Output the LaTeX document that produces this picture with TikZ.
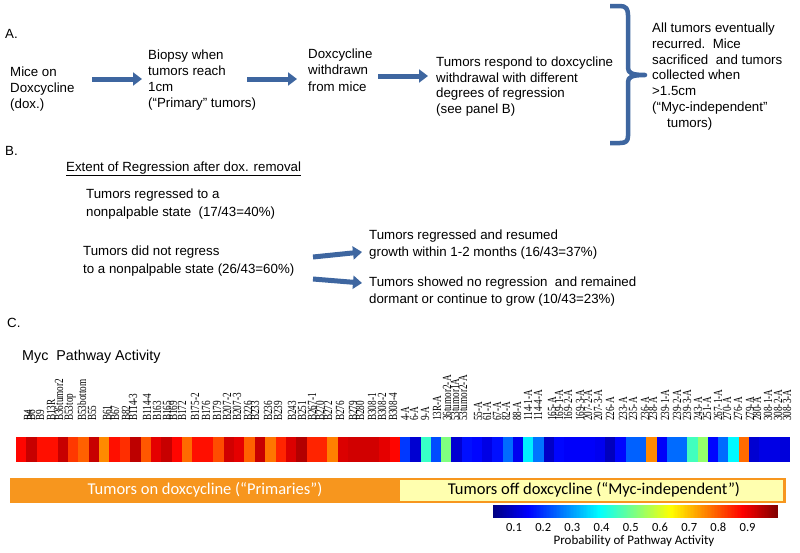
\documentclass[tikz,border=0pt]{standalone}
\usepackage{fontspec}
\setmainfont{Liberation Sans}
\newfontfamily\serifl{Liberation Serif}
\newfontfamily\calib{Carlito}
\usetikzlibrary{arrows.meta}
\definecolor{arrowblue}{RGB}{62,102,160}
\definecolor{barorange}{RGB}{247,150,30}
\definecolor{baryellow}{RGB}{255,255,175}
\newcommand{\txtblock}[2][16]{{\fontsize{13.3}{#1}\selectfont\begin{tabular}[t]{@{}l@{}}#2\end{tabular}}}
\begin{document}
\begin{tikzpicture}[x=1pt,y=-1pt,
  txt/.style={anchor=base west,inner sep=0pt,font=\fontsize{13.3}{16}\selectfont},
  blockarrow/.style={draw=arrowblue,line width=5pt,-{Triangle[length=9pt,width=13pt]}},
  collabel/.style={rotate=90,anchor=west,inner sep=0pt,font=\serifl\fontsize{9.2}{10}\selectfont},
  bartext/.style={inner sep=0pt,font=\calib\fontsize{16.5}{18}\selectfont},
  ticklabel/.style={inner sep=0pt,font=\calib\fontsize{12.5}{14}\selectfont}]
\useasboundingbox (0,0) rectangle (800,552);
\fill[white] (0,0) rectangle (800,552);

% ---------- Panel A ----------
\node[txt] (labA) at (5,38) {A.};
\node[txt] (mice) at (10,76.5) {\txtblock{Mice on\\Doxcycline\\(dox.)}};
\node[txt] (biopsy) at (148,59.5) {\txtblock{Biopsy when\\tumors reach\\1cm\\(“Primary” tumors)}};
\node[txt] (withdrawn) at (308,58) {\txtblock[16.5]{Doxcycline\\withdrawn\\from mice}};
\node[txt] (respond) at (436,66.5) {\txtblock[15.5]{Tumors respond to doxcycline\\withdrawal with different\\degrees of regression\\(see panel B)}};
\node[txt] (recur) at (652,32.5) {\txtblock[15.8]{All tumors eventually\\recurred.\ \ Mice\\sacrificed\ \ and tumors\\collected when\\>1.5cm\\(“Myc-independent”\\\hspace{15pt}tumors)}};

\coordinate (a1s) at (92,79);  \coordinate (a1e) at (142,79);
\coordinate (a2s) at (247,79); \coordinate (a2e) at (297,79);
\coordinate (a3s) at (378,76); \coordinate (a3e) at (428,76);
\draw[blockarrow] (a1s) -- (a1e);
\draw[blockarrow] (a2s) -- (a2e);
\draw[blockarrow] (a3s) -- (a3e);

\draw[arrowblue,line width=4.5pt,line join=round]
  (610,6) -- (620,6) .. controls (626,6) and (628,9) .. (628,15) -- (628,68)
  .. controls (628,73) and (632,75) .. (645,75)
  .. controls (632,75) and (628,77) .. (628,82) -- (628,136)
  .. controls (628,141) and (626,143) .. (620,143) -- (610,143);

% ---------- Panel B ----------
\node[txt] (labB) at (5,155) {B.};
\node[txt] (extent) at (66,171.5) {\underline{Extent of Regression after dox. removal}};
\node[txt] (regressed) at (86,198.5) {\txtblock[17.5]{Tumors regressed to a\\nonpalpable state\ \ (17/43=40\%)}};
\node[txt] (notregress) at (83,255.5) {\txtblock[17.5]{Tumors did not regress\\to a nonpalpable state (26/43=60\%)}};
\node[txt] (resumed) at (369,239.5) {\txtblock[17]{Tumors regressed and resumed\\growth within 1-2 months (16/43=37\%)}};
\node[txt] (dormant) at (369,286.5) {\txtblock[16.5]{Tumors showed no regression\ \ and remained\\dormant or continue to grow (10/43=23\%)}};
\coordinate (b1s) at (313,257); \coordinate (b1e) at (362,252);
\coordinate (b2s) at (313,279); \coordinate (b2e) at (362,283);
\draw[blockarrow] (b1s) -- (b1e);
\draw[blockarrow] (b2s) -- (b2e);

% ---------- Panel C ----------
\node[txt] (labC) at (7,327) {C.};
\node[txt,font=\fontsize{14.3}{16}\selectfont] (myc) at (22,360) {Myc\ \ Pathway Activity};

% heatmap: primaries
\foreach \v [count=\i from 0] in {0.87,0.93,0.86,0.86,0.93,0.82,0.78,0.93,0.74,0.86,0.83,0.94,0.79,0.90,0.93,0.87,0.77,0.86,0.86,0.80,0.92,0.90,0.78,0.93,0.76,0.84,0.91,0.95,0.84,0.84,0.75,0.91,0.92,0.92,0.92,0.90,0.87} {
  \pgfmathsetmacro\jr{max(0,min(1,1.5-abs(4*\v-3)))}
  \pgfmathsetmacro\jg{max(0,min(1,1.5-abs(4*\v-2)))}
  \pgfmathsetmacro\jb{max(0,min(1,1.5-abs(4*\v-1)))}
  \definecolor{jetc}{rgb}{\jr,\jg,\jb}
  \fill[jetc] ({16+\i*10.38},437) rectangle ({16+(\i+1)*10.38+0.4},462);
}
% heatmap: myc-independent
\foreach \v [count=\i from 0] in {0.18,0.08,0.43,0.20,0.50,0.08,0.14,0.13,0.10,0.14,0.23,0.11,0.36,0.24,0.07,0.13,0.12,0.12,0.12,0.11,0.06,0.13,0.22,0.22,0.74,0.12,0.23,0.23,0.44,0.52,0.13,0.23,0.37,0.77,0.08,0.10,0.10,0.09} {
  \pgfmathsetmacro\jr{max(0,min(1,1.5-abs(4*\v-3)))}
  \pgfmathsetmacro\jg{max(0,min(1,1.5-abs(4*\v-2)))}
  \pgfmathsetmacro\jb{max(0,min(1,1.5-abs(4*\v-1)))}
  \definecolor{jetc}{rgb}{\jr,\jg,\jb}
  \fill[jetc] ({400+\i*10.26},437) rectangle ({400+(\i+1)*10.26+0.3},462);
}

% column labels (glyphs stretched across, as in the reference)
\foreach \xx/\lab [count=\i] in {28/B4,31/B6,40/B9,51/B13R,59/B36tumor2,70/B53top,82/B53bottom,92/B55,107/B61,115/B67,126/B82,133/B114-3,147/B114-4,157/B163,167/B165,173/B169,182/B172,195/B175-2,206/B176,217/B179,227/B207-2,237/B207-3,248/B226,255/B233,268/B236,278/B239,292/B243,302/B251,312/B267-1,320/B270,328/B272,340/B276,353/B279,360/B280,372/B308-1,382/B308-2,393/B308-4,405/4-A,414/6-A,425/9-A,437/13R-A,447/36tumor2-A,455/53tumor1A,463/53tumor2-A,478/55-A,487/61-A,497/67-A,506/82-A,517/88-A,528/114-1-A,538/114-4-A,552/165-A,559/169-1-A,568/169-2-A,580/169-3-A,588/207-2-A,598/207-3-A,610/226-A,623/233-A,633/235-A,645/236-A,653/238-A,665/239-1-A,677/239-2-A,687/239-3-A,698/243-A,707/251-A,718/267-1-A,727/270-A,738/276-A,750/279-A,757/280-A,768/308-1-A,778/308-2-A,787/308-3-A} {
  \node[collabel] (col\i) at (\xx,421) {\scalebox{1}[1.35]{\lab}};
}

% group bar
\fill[barorange] (10,478) rectangle (786,503);
\fill[baryellow] (400,480) rectangle (783,501);
\node[bartext,text=white] (onlbl) at (205,490) {Tumors on doxcycline (“Primaries”)};
\node[bartext,text=black] (offlbl) at (594,490) {Tumors off doxcycline (“Myc-independent”)};

% colorbar
\foreach \k in {0,...,199} {
  \pgfmathsetmacro\tt{(\k+0.5)/200}
  \pgfmathsetmacro\jr{max(0,min(1,1.5-abs(4*\tt-3)))}
  \pgfmathsetmacro\jg{max(0,min(1,1.5-abs(4*\tt-2)))}
  \pgfmathsetmacro\jb{max(0,min(1,1.5-abs(4*\tt-1)))}
  \definecolor{jetc}{rgb}{\jr,\jg,\jb}
  \fill[jetc] ({493+\k*1.425},505) rectangle ({493+(\k+1)*1.425+0.3},518);
}
\foreach \n [count=\i] in {0.1,0.2,0.3,0.4,0.5,0.6,0.7,0.8,0.9} {
  \node[ticklabel] (tick\i) at ({514+(\i-1)*29.2},527) {\n};
}
\node[ticklabel,font=\calib\fontsize{13}{14}\selectfont] (cbcap) at (634,541) {Probability of Pathway Activity};
\end{tikzpicture}
\end{document}
